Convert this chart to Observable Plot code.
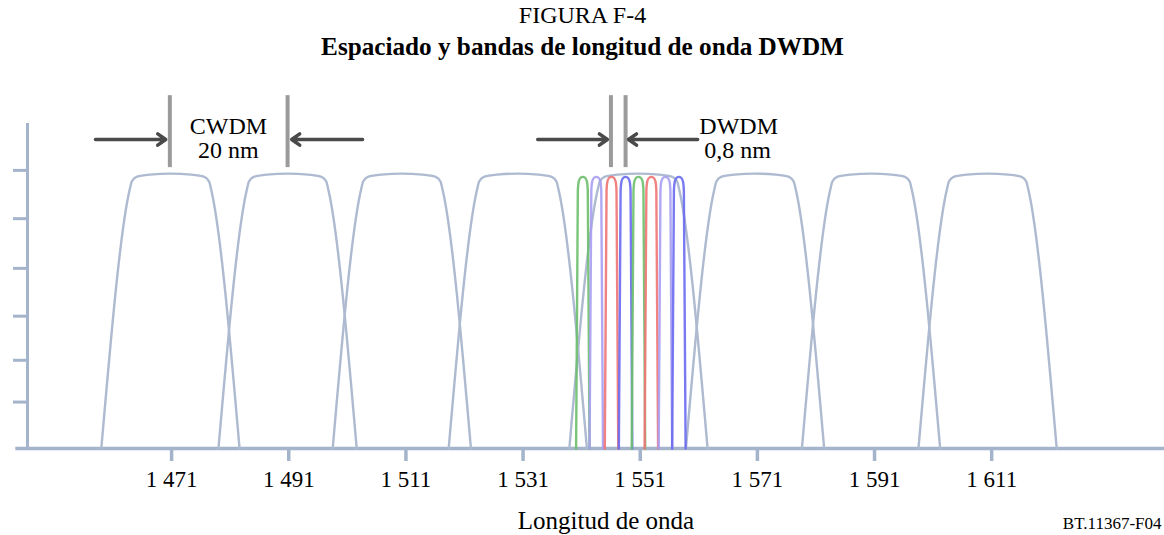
<!DOCTYPE html>
<html><head><meta charset="utf-8">
<script src="https://cdn.jsdelivr.net/npm/d3@7"></script>
<script src="https://cdn.jsdelivr.net/npm/@observablehq/plot@0.6"></script>
<style>
body{margin:0;background:#fff;}
#chart svg{display:block;}
</style>
</head><body><div id="chart"></div>
<script>
// ---- data ----
const xTicks = [1471, 1491, 1511, 1531, 1551, 1571, 1591, 1611];
const yTicks = [1, 1.9, 2.85, 3.88, 4.95, 5.99];
const cwdmCenters = [1470.8, 1490.8, 1510.3, 1530.1, 1550.7, 1570.6, 1590.4, 1610.3];
const cwdmProfileDx = [-11.8, -7.0, -6.6, -5.8, -3.5, 0, 3.5, 5.8, 6.6, 7.0, 11.8];
const cwdmProfileY  = [0, 5.55, 5.75, 5.85, 5.9, 5.92, 5.9, 5.85, 5.75, 5.55, 0];
const dwdmCenters = [1541.2, 1543.5, 1546.1, 1548.5, 1550.7, 1552.9, 1555.3, 1557.6];
const dwdmColors = ["#6cbf6c", "#a99ff2", "#f07474", "#6a6af0", "#6cbf6c", "#f07474", "#a99ff2", "#6a6af0"];
const dwdmProfileDx = [-1.15, -0.85, -0.7, -0.4, 0, 0.4, 0.7, 0.85, 1.15];
const dwdmProfileY  = [0, 5.55, 5.75, 5.83, 5.85, 5.83, 5.75, 5.55, 0];
const spacingBars = [1470.7, 1490.8, 1546.0, 1548.5];
const arrowX1 = [1458.0, 1503.6, 1533.5, 1560.8];
const arrowX2 = [1470.0, 1491.5, 1545.4, 1549.0];
const labelTexts = ["CWDM", "20 nm", "DWDM", "0,8 nm"];
const labelX = [1480.7, 1480.7, 1567.8, 1567.6];
const labelY = [6.78, 6.25, 6.78, 6.25];
const xDomain = [1446.4, 1640.5];
const yDomain = [0, 7];
const axisStart = 1444.4;

// ---- tables ----
const cwdmRows = cwdmCenters.flatMap((c, i) => cwdmProfileDx.map((dx, j) => ({ch: i, x: c + dx, y: cwdmProfileY[j]})));
const dwdmRows = dwdmCenters.map((c, i) => dwdmProfileDx.map((dx, j) => ({ch: i, x: c + dx, y: dwdmProfileY[j]})));
const arrows = arrowX1.map((x1, i) => ({x1, x2: arrowX2[i], y: 6.655}));
const labels = labelTexts.map((t, i) => ({t, x: labelX[i], y: labelY[i]}));

const axisColor = "#a4b4cb";
const filterColor = "#adbad0";
const font = "'Liberation Serif', 'Times New Roman', serif";
const fmt = d3.formatLocale({decimal: ",", thousands: " ", grouping: [3]}).format(",d");

const chart = Plot.plot({
  width: 1164,
  height: 535,
  marginLeft: 27,
  marginRight: 0,
  marginTop: 123,
  marginBottom: 87,
  style: {fontFamily: font, fontSize: "23px", color: "black", background: "white", overflow: "visible"},
  x: {domain: xDomain},
  y: {domain: yDomain},
  marks: [
    Plot.ruleY([0], {x1: axisStart, x2: xDomain[1], stroke: axisColor, strokeWidth: 3.5}),
    Plot.ruleX([xDomain[0]], {y1: 0, y2: 7, stroke: axisColor, strokeWidth: 3}),
    Plot.axisY(yTicks, {tickSize: 14, tickFormat: () => "", label: null, stroke: axisColor, strokeWidth: 3}),
    Plot.axisX(xTicks, {tickSize: 13, tickPadding: 9, tickFormat: fmt, label: null, stroke: axisColor, strokeWidth: 3.5, fill: "black", fontSize: 23, fontFamily: font}),
    Plot.line(cwdmRows, {x: "x", y: "y", z: "ch", stroke: filterColor, strokeWidth: 2.4, curve: "monotone-x"}),
    ...dwdmRows.map((rows, i) => Plot.line(rows, {x: "x", y: "y", stroke: dwdmColors[i], strokeWidth: 2.4, strokeOpacity: 0.9, curve: "monotone-x"})),
    Plot.ruleX(spacingBars, {y1: 6.05, y2: 7.6, stroke: "#9b9b9b", strokeWidth: 4}),
    Plot.arrow(arrows, {x1: "x1", x2: "x2", y1: "y", y2: "y", stroke: "#4a4a4a", strokeWidth: 3.5, headLength: 4.2, headAngle: 70}),
    Plot.text(labels, {x: "x", y: "y", text: "t", lineAnchor: "bottom", fontSize: 24, fontFamily: font, fill: "black"}),
    Plot.text(["FIGURA F-4"], {frameAnchor: "top", dx: -13.5, dy: -101, lineAnchor: "bottom", fontSize: 24, fontFamily: font, fill: "black"}),
    Plot.text(["Espaciado y bandas de longitud de onda DWDM"], {frameAnchor: "top", dx: -13.5, dy: -69, lineAnchor: "bottom", fontSize: 25.2, fontWeight: "bold", fontFamily: font, fill: "black"}),
    Plot.text(["Longitud de onda"], {frameAnchor: "bottom", dx: 10, dy: 80, lineAnchor: "bottom", fontSize: 25, fontFamily: font, fill: "black"}),
    Plot.text(["BT.11367-F04"], {frameAnchor: "bottom-right", textAnchor: "end", dx: -3, dy: 80, lineAnchor: "bottom", fontSize: 17, fontFamily: font, fill: "black"})
  ]
});
document.getElementById("chart").appendChild(chart);
</script>
</body></html>
